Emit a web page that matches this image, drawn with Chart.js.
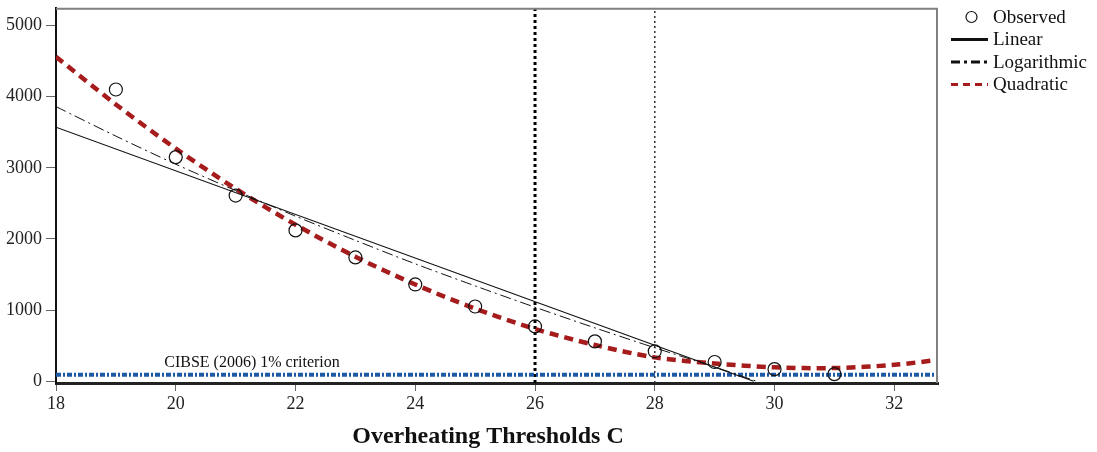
<!DOCTYPE html>
<html>
<head>
<meta charset="utf-8">
<script src="https://cdn.jsdelivr.net/npm/chart.js@4"></script>
<style>
  html, body { margin: 0; padding: 0; background: #fff; }
</style>
</head>
<body>
<canvas id="chart" width="1097" height="452"></canvas>
<script>
// observed overheating hours per threshold
const thresholds = [19, 20, 21, 22, 23, 24, 25, 26, 27, 28, 29, 30, 31];
const observedHours = [4100, 3150, 2610, 2120, 1740, 1360, 1050, 770, 560, 420, 270, 170, 100];

// fitted curves
const linearX = [18, 29.65];
const linearY = [3570, 0];
const logX = [18, 19, 20, 21, 22, 23, 24, 25, 26, 27, 28, 29, 29.7];
const logY = [3860, 3445, 3050, 2680, 2320, 1980, 1650, 1340, 1040, 750, 470, 200, 0];
const quadX = [18, 19, 20, 21, 22, 23, 24, 25, 26, 27, 28, 29, 30, 31, 32, 32.73];
const quadY = [4560, 3890, 3270, 2705, 2200, 1750, 1360, 1020, 735, 510, 335, 250, 195, 185, 230, 300];

const criterionHours = 90;
const refThresholds = [26, 28];
const xRange = [18, 32.73];
const yRange = [-25, 5250];
const xTicks = [18, 20, 22, 24, 26, 28, 30, 32];
const yTicks = [0, 1000, 2000, 3000, 4000, 5000];

const SERIF = "'Liberation Serif', 'Times New Roman', serif";
const pts = (xs, ys) => xs.map((x, i) => ({ x: x, y: ys[i] }));

const datasets = [
    {
        label: 'Observed',
        data: pts(thresholds, observedHours),
        showLine: false,
        pointRadius: 6.5,
        pointBackgroundColor: 'rgba(255,255,255,0)',
        pointBorderColor: '#111',
        pointBorderWidth: 1.2
    },
    {
        label: 'Linear',
        data: pts(linearX, linearY),
        showLine: true,
        borderColor: '#111',
        borderWidth: 1.2,
        pointRadius: 0,
        legendWidth: 3
    },
    {
        label: 'Logarithmic',
        data: pts(logX, logY),
        showLine: true,
        borderColor: '#111',
        borderWidth: 1,
        borderDash: [11, 4, 2, 4],
        tension: 0.3,
        pointRadius: 0,
        legendWidth: 3,
        legendDash: [9, 4, 3, 4]
    },
    {
        label: 'Quadratic',
        data: pts(quadX, quadY),
        showLine: true,
        borderColor: '#a61c1c',
        borderWidth: 4.5,
        borderDash: [9, 6],
        tension: 0.3,
        pointRadius: 0,
        legendWidth: 3,
        legendDash: [7, 5]
    },
    {
        label: 'criterion',
        data: pts(xRange, [criterionHours, criterionHours]),
        showLine: true,
        borderColor: '#1c5aa6',
        borderWidth: 4,
        borderDash: [5, 2, 2, 2],
        pointRadius: 0,
        noLegend: true
    },
    {
        label: 't26',
        data: pts([refThresholds[0], refThresholds[0]], yRange),
        showLine: true,
        borderColor: '#000',
        borderWidth: 3,
        borderDash: [3, 3],
        pointRadius: 0,
        noLegend: true
    },
    {
        label: 't28',
        data: pts([refThresholds[1], refThresholds[1]], yRange),
        showLine: true,
        borderColor: '#333',
        borderWidth: 1.5,
        borderDash: [2, 3],
        pointRadius: 0,
        noLegend: true
    }
];

const decorations = {
    id: 'decorations',
    afterDraw(chart) {
        const ctx = chart.ctx;
        const a = chart.chartArea;
        ctx.save();

        // grey frame top and right
        ctx.strokeStyle = '#808080';
        ctx.lineWidth = 2;
        ctx.beginPath();
        ctx.moveTo(a.left, a.top + 1);
        ctx.lineTo(a.right - 1, a.top + 1);
        ctx.lineTo(a.right - 1, a.bottom);
        ctx.stroke();

        // criterion label
        const yc = chart.scales.y.getPixelForValue(criterionHours);
        ctx.fillStyle = '#111';
        ctx.font = '16px ' + SERIF;
        ctx.textAlign = 'center';
        ctx.textBaseline = 'middle';
        ctx.fillText('CIBSE (2006) 1% criterion', a.left + 196, yc - 12);

        // x axis title
        ctx.font = 'bold 24px ' + SERIF;
        ctx.fillText('Overheating Thresholds C', 488, 437);

        // legend
        const lx = 951, lw = 37, tx = 993;
        let ly = 17;
        ctx.font = '19px ' + SERIF;
        ctx.textAlign = 'left';
        chart.data.datasets.forEach(ds => {
            if (ds.noLegend) return;
            if (ds.showLine === false) {
                ctx.setLineDash([]);
                ctx.lineWidth = 1.2;
                ctx.strokeStyle = ds.pointBorderColor;
                ctx.beginPath();
                ctx.arc(lx + lw / 2 + 2, ly, 5.5, 0, Math.PI * 2);
                ctx.stroke();
            } else {
                ctx.setLineDash(ds.legendDash || []);
                ctx.lineWidth = ds.legendWidth;
                ctx.strokeStyle = ds.borderColor;
                ctx.beginPath();
                ctx.moveTo(lx, ly);
                ctx.lineTo(lx + lw, ly);
                ctx.stroke();
            }
            ctx.fillStyle = '#111';
            ctx.fillText(ds.label, tx, ly + 1);
            ly += 22.5;
        });
        ctx.restore();
    }
};

new Chart(document.getElementById('chart'), {
    type: 'scatter',
    data: { datasets: datasets },
    options: {
        responsive: false,
        animation: false,
        devicePixelRatio: 1,
        layout: { padding: { top: 6, right: 159, left: 0, bottom: 0 } },
        plugins: {
            legend: { display: false },
            tooltip: { enabled: false }
        },
        scales: {
            x: {
                type: 'linear',
                min: xRange[0],
                max: xRange[1],
                afterFit: s => { s.height = 69; s.paddingLeft = 0; s.paddingRight = 0; },
                afterBuildTicks: s => { s.ticks = xTicks.map(v => ({ value: v })); },
                ticks: { color: '#222', padding: 2, font: { family: SERIF, size: 18 }, callback: v => String(v) },
                grid: { drawOnChartArea: false, tickLength: 8, color: '#666' },
                border: { color: '#222', width: 3 }
            },
            y: {
                min: yRange[0],
                max: yRange[1],
                afterFit: s => { s.width = 56; s.paddingTop = 0; s.paddingBottom = 0; },
                afterBuildTicks: s => { s.ticks = yTicks.map(v => ({ value: v })); },
                ticks: { color: '#222', padding: 4, font: { family: SERIF, size: 18 }, callback: v => String(v) },
                grid: { drawOnChartArea: false, tickLength: 10, color: '#666' },
                border: { color: '#111', width: 2 }
            }
        }
    },
    plugins: [decorations]
});
</script>
</body>
</html>
